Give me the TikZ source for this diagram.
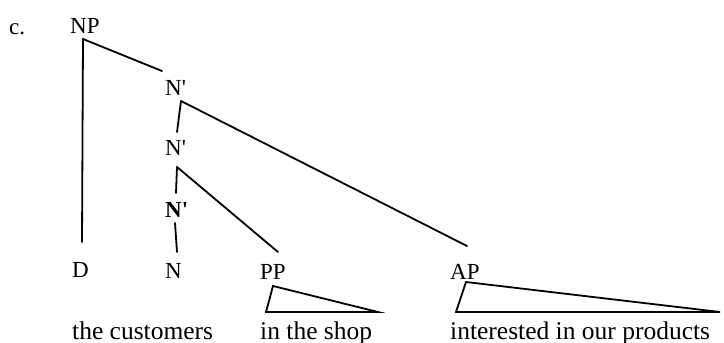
\documentclass[tikz,border=0pt]{standalone}
\usepackage{fontspec}
% no TeX quote mapping, so ' stays a straight prime
\setmainfont{Liberation Serif}[Ligatures=TeXOff]
\begin{document}
\begin{tikzpicture}[x=1pt,y=-1pt,
  lab/.style={font=\fontsize{23}{27}\selectfont, inner sep=0pt, anchor=base west},
  words/.style={font=\fontsize{25.5}{30}\selectfont, inner sep=0pt, anchor=base west},
  branch/.style={line width=1.8pt, line cap=round},
  roof/.style={line width=1.8pt, line join=miter}]
\useasboundingbox (0,0) rectangle (724,343);

% category labels
\node[lab] (ex)  at (9,34)    {c.};
\node[lab] (np)  at (70,33)   {NP};
\node[lab] (n1)  at (165,95)  {N'};
\node[lab] (n2)  at (165,155) {N'};
\node[lab] (n3)  at (165,217) {\bfseries N'};
\node[lab] (d)   at (72,277)  {D};
\node[lab] (n)   at (165,278) {N};
\node[lab] (pp)  at (260,279) {PP};
\node[lab] (ap)  at (450,279) {AP};

% terminal strings
\node[words] (w1) at (72,339)  {the customers};
\node[words] (w2) at (260,339) {in the shop};
\node[words] (w3) at (450,339) {interested in our products};

% branches
\draw[branch] ([shift={(13,6)}]np.base west) -- ([shift={(10,-35)}]d.base west);
\draw[branch] ([shift={(13,6)}]np.base west) -- ([shift={(-3,-24)}]n1.base west);
\draw[branch] ([shift={(16,6)}]n1.base west) -- ([shift={(12,-23)}]n2.base west);
\draw[branch] ([shift={(16,6)}]n1.base west) -- ([shift={(17,-33)}]ap.base west);
\draw[branch] ([shift={(12,12)}]n2.base west) -- ([shift={(11,-24)}]n3.base west);
\draw[branch] ([shift={(12,12)}]n2.base west) -- ([shift={(18,-27)}]pp.base west);
\draw[branch] ([shift={(10,6)}]n3.base west) -- ([shift={(12,-26)}]n.base west);

% triangles over unanalysed phrases
\draw[roof] ([shift={(13,7)}]pp.base west) -- ([shift={(6,33)}]pp.base west)
  -- ([shift={(118,33)}]pp.base west) -- cycle;
\draw[roof] ([shift={(16,3)}]ap.base west) -- ([shift={(6,33)}]ap.base west)
  -- ([shift={(270,33)}]ap.base west) -- cycle;
\end{tikzpicture}
\end{document}
